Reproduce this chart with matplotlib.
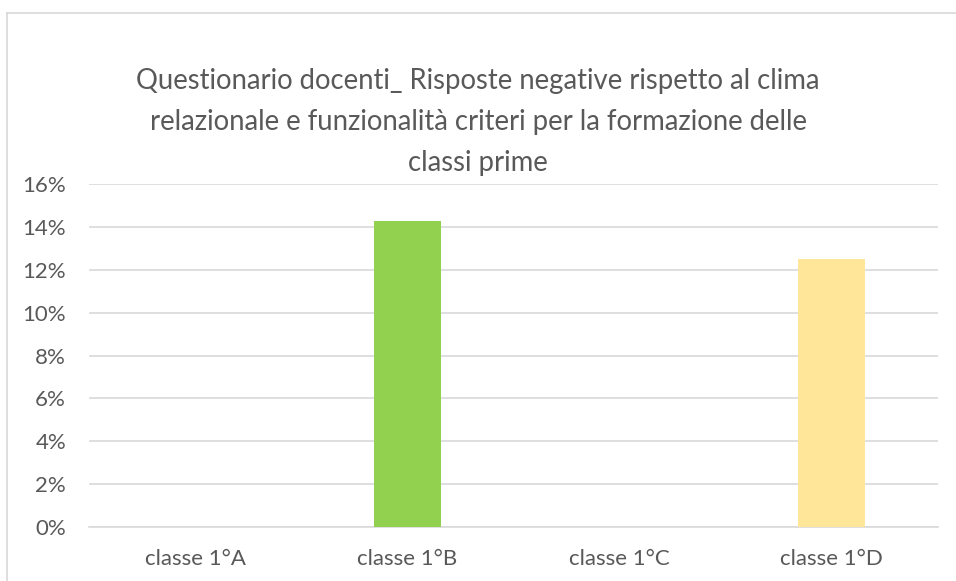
import matplotlib
matplotlib.use("Agg")
import matplotlib.pyplot as plt
from matplotlib.ticker import FuncFormatter
from matplotlib.lines import Line2D

categories = ["classe 1°A", "classe 1°B", "classe 1°C", "classe 1°D"]
values = [0.0, 0.1429, 0.0, 0.125]
colors = ["#5B9BD5", "#92D050", "#A5A5A5", "#FFE699"]
title = ("Questionario docenti_ Risposte negative rispetto al clima\n"
         "relazionale e funzionalità criteri per la formazione delle\n"
         "classi prime")

plt.rcParams['font.family'] = ['Lato', 'DejaVu Sans']
W, H = 956, 581
fig = plt.figure(figsize=(W/100, H/100), dpi=100)
ax = fig.add_axes([89/W, 1-527/H, (938-89)/W, (527-184)/H])

x = range(len(categories))
ax.bar(x, values, width=0.316, color=colors, zorder=3)
ax.set_xlim(-0.5, 3.5)
ax.set_ylim(0, 0.16)
ax.set_yticks([i*0.02 for i in range(9)])
ax.yaxis.set_major_formatter(FuncFormatter(lambda v, p: f"{v*100:.0f}%"))
ax.set_xticks(list(x))
ax.set_xticklabels(categories)
ax.grid(axis='y', color='#D9D9D9', linewidth=1.2, zorder=0)
for s in ['top', 'right', 'left']:
    ax.spines[s].set_visible(False)
ax.spines['bottom'].set_color('#D9D9D9')
ax.spines['bottom'].set_linewidth(1.2)
ax.tick_params(axis='both', length=0, colors='#595959', labelsize=16)
ax.tick_params(axis='y', pad=16.5)
ax.tick_params(axis='x', pad=15.5)

fig.text(0.5, 1-122/H, title, ha='center', va='center', fontsize=19.8,
         color='#595959', linespacing=1.7)

fig.add_artist(Line2D([7/W, 7/W], [0, 1-13/H], color='#D9D9D9', lw=1.2, transform=fig.transFigure))
fig.add_artist(Line2D([7/W, 1], [1-13/H, 1-13/H], color='#D9D9D9', lw=1.2, transform=fig.transFigure))

fig.savefig("out.png", dpi=100, facecolor='white')
